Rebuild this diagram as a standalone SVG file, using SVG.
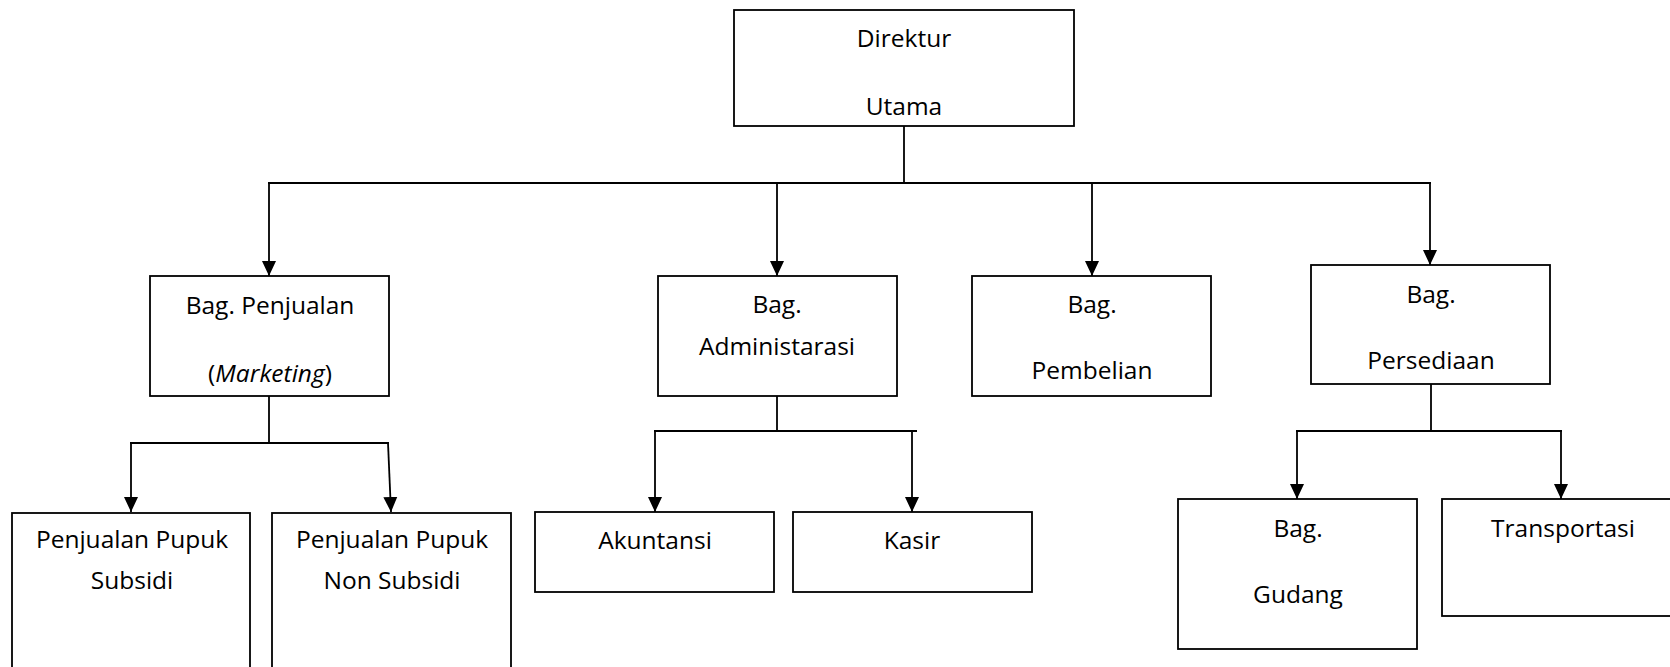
<svg xmlns="http://www.w3.org/2000/svg" width="1670" height="667" viewBox="0 0 1670 667">
<defs>
<style>
.box{fill:#fff;stroke:#000;stroke-width:1.8}
.lbl{font-family:"Open Sans","Liberation Sans",sans-serif;font-size:24.5px;fill:#000;text-anchor:middle}
.ln{fill:none;stroke:#000;stroke-width:1.8}
</style>
<marker id="ad" markerUnits="userSpaceOnUse" markerWidth="16" markerHeight="16" viewBox="0 0 16 16" refX="15" refY="8" orient="auto">
<path d="M0,1 L0,15 L15,8 Z" fill="#000"/>
</marker>
</defs>
<rect width="1670" height="667" fill="#fff"/>
<g id="connectors">
<line class="ln" x1="904" y1="126" x2="904" y2="183"/>
<line class="ln" x1="268" y1="183" x2="1431" y2="183"/>
<line class="ln" x1="269" y1="183" x2="269" y2="276" marker-end="url(#ad)"/>
<line class="ln" x1="777" y1="183" x2="777" y2="276" marker-end="url(#ad)"/>
<line class="ln" x1="1092" y1="183" x2="1092" y2="276" marker-end="url(#ad)"/>
<line class="ln" x1="1430" y1="183" x2="1430" y2="265" marker-end="url(#ad)"/>
<line class="ln" x1="269" y1="396" x2="269" y2="443"/>
<line class="ln" x1="130" y1="443" x2="389" y2="443"/>
<line class="ln" x1="131" y1="443" x2="131" y2="512" marker-end="url(#ad)"/>
<line class="ln" x1="388" y1="443" x2="391" y2="512" marker-end="url(#ad)"/>
<line class="ln" x1="777" y1="396" x2="777" y2="431"/>
<line class="ln" x1="654" y1="431" x2="917" y2="431"/>
<line class="ln" x1="655" y1="431" x2="655" y2="512" marker-end="url(#ad)"/>
<line class="ln" x1="912" y1="431" x2="912" y2="512" marker-end="url(#ad)"/>
<line class="ln" x1="1431" y1="384" x2="1431" y2="431"/>
<line class="ln" x1="1296" y1="431" x2="1562" y2="431"/>
<line class="ln" x1="1297" y1="431" x2="1297" y2="499" marker-end="url(#ad)"/>
<line class="ln" x1="1561" y1="431" x2="1561" y2="499" marker-end="url(#ad)"/>
</g>
<g id="direktur">
<rect class="box" x="734" y="10" width="340" height="116"/>
<text class="lbl" x="904" y="47">Direktur</text>
<text class="lbl" x="904" y="115">Utama</text>
</g>
<g id="penjualan">
<rect class="box" x="150" y="276" width="239" height="120"/>
<text class="lbl" x="270" y="314">Bag. Penjualan</text>
<text class="lbl" x="270" y="382">(<tspan font-style="italic">Marketing</tspan>)</text>
</g>
<g id="administrasi">
<rect class="box" x="658" y="276" width="239" height="120"/>
<text class="lbl" x="777" y="313">Bag.</text>
<text class="lbl" x="777" y="355">Administarasi</text>
</g>
<g id="pembelian">
<rect class="box" x="972" y="276" width="239" height="120"/>
<text class="lbl" x="1092" y="313">Bag.</text>
<text class="lbl" x="1092" y="379">Pembelian</text>
</g>
<g id="persediaan">
<rect class="box" x="1311" y="265" width="239" height="119"/>
<text class="lbl" x="1431" y="303">Bag.</text>
<text class="lbl" x="1431" y="369">Persediaan</text>
</g>
<g id="pupuk-subsidi">
<rect class="box" x="12" y="513" width="238" height="170"/>
<text class="lbl" x="132" y="548">Penjualan Pupuk</text>
<text class="lbl" x="132" y="589">Subsidi</text>
</g>
<g id="pupuk-non-subsidi">
<rect class="box" x="272" y="513" width="239" height="170"/>
<text class="lbl" x="392" y="548">Penjualan Pupuk</text>
<text class="lbl" x="392" y="589">Non Subsidi</text>
</g>
<g id="akuntansi">
<rect class="box" x="535" y="512" width="239" height="80"/>
<text class="lbl" x="655" y="549">Akuntansi</text>
</g>
<g id="kasir">
<rect class="box" x="793" y="512" width="239" height="80"/>
<text class="lbl" x="912" y="549">Kasir</text>
</g>
<g id="gudang">
<rect class="box" x="1178" y="499" width="239" height="150"/>
<text class="lbl" x="1298" y="537">Bag.</text>
<text class="lbl" x="1298" y="603">Gudang</text>
</g>
<g id="transportasi">
<rect class="box" x="1442" y="499" width="240" height="117"/>
<text class="lbl" x="1563" y="537">Transportasi</text>
</g>
</svg>
